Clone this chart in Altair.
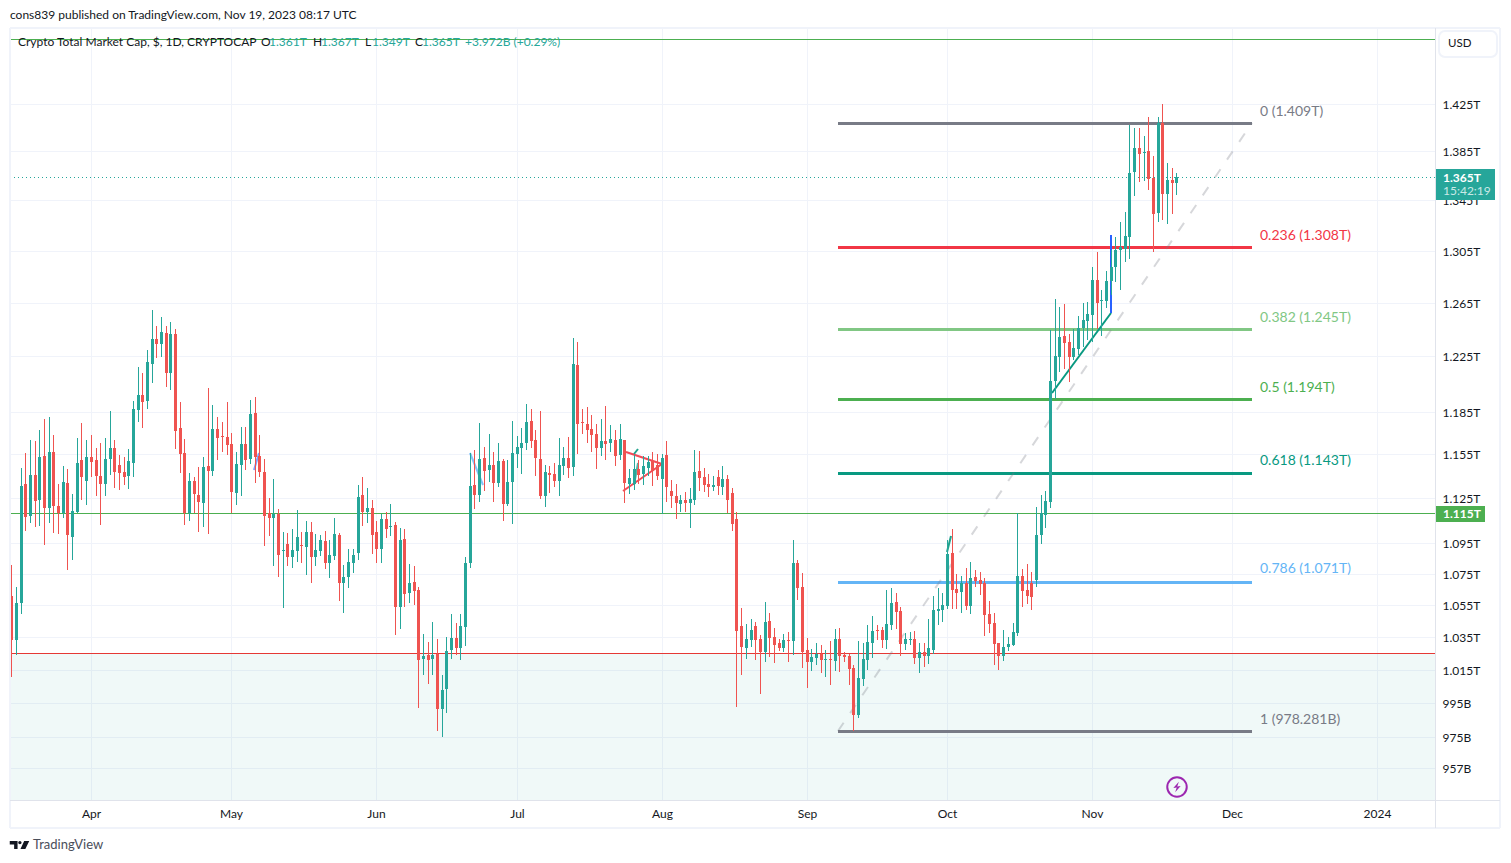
import altair as alt
import pandas as pd

FONT = "Lato"
UP = "#26a69a"
DOWN = "#ef5350"

# Billions of USD, one value per daily candle from 2023-03-15
directions = ("RGGRGRGRGR" "RGRGGRGRRR" "GGRRRGGGRG" "GRGRGRRRGR" "RGRGRRRRGG"
              "RGRRRRGRGR" "GGRGRGGRGG" "RGGGGRGRRG" "RGRGRGRRGR" "GRGGGRGGGR"
              "GRGRGRGGGG" "GRRRGRRGGR" "GRRRRRGRGR" "GRGGRGGRRG" "RRRGRGGRRR"
              "GRGRRRRGGR" "RGRRRGRGRR" "RGGRGRGRRR" "RGGGGRRGGR" "RGGRGRGGGG"
              "GRRGRGRRRR" "RRGGGGRRRG" "GGGGGRRGGG" "GGRGGGGGGG" "GRGRRGRGRG")

highs = [
    1080.6, 1066.4, 1145.4, 1155.7, 1164.8, 1164.1, 1171.8, 1179.6, 1181.0, 1168.3,
    1134.4, 1146.8, 1144.7, 1127.7, 1166.2, 1176.8, 1164.8, 1168.3, 1159.2, 1162.7,
    1166.2, 1185.3, 1164.8, 1154.3, 1153.0, 1158.5, 1192.4, 1217.0, 1212.6, 1229.5,
    1259.4, 1247.3, 1254.1, 1247.3, 1250.3, 1245.0, 1191.7, 1165.5, 1142.0, 1139.3,
    1146.1, 1153.0, 1201.7, 1189.6, 1181.0, 1177.5, 1191.7, 1169.7, 1156.4, 1174.0,
    1174.0, 1193.1, 1195.3, 1168.3, 1151.6, 1125.0, 1137.9, 1117.6, 1102.2, 1101.5,
    1104.2, 1117.0, 1102.2, 1109.5, 1108.9, 1100.8, 1100.2, 1102.9, 1096.9, 1111.5,
    1101.5, 1080.6, 1091.0, 1091.0, 1133.7, 1139.3, 1131.7, 1123.6, 1109.5, 1114.2,
    1115.6, 1120.9, 1108.9, 1104.9, 1104.2, 1081.3, 1080.0, 1067.0, 1036.8, 1031.9,
    1044.4, 1033.7, 1011.7, 1035.0, 1049.6, 1043.7, 1049.6, 1085.9, 1155.7, 1157.8,
    1176.8, 1159.9, 1169.0, 1156.4, 1162.7, 1151.6, 1150.9, 1178.2, 1167.6, 1173.3,
    1190.3, 1186.7, 1171.8, 1185.3, 1147.4, 1146.8, 1148.8, 1166.2, 1159.9, 1166.9,
    1238.4, 1235.4, 1186.7, 1188.1, 1182.4, 1176.1, 1179.6, 1188.8, 1175.4, 1171.8,
    1176.1, 1164.8, 1144.7, 1154.3, 1150.9, 1153.7, 1153.7, 1156.4, 1155.0, 1155.0,
    1164.1, 1137.2, 1134.4, 1127.0, 1129.0, 1131.7, 1157.8, 1157.1, 1145.4, 1141.3,
    1139.9, 1144.0, 1146.8, 1140.6, 1131.7, 1115.6, 1053.3, 1043.1, 1046.2, 1044.4,
    1036.2, 1057.0, 1050.2, 1040.6, 1033.7, 1036.8, 1038.1, 1096.9, 1083.9, 1075.5,
    1034.4, 1027.6, 1031.2, 1030.0, 1027.0, 1032.5, 1040.0, 1040.6, 1025.7, 1024.5,
    1017.7, 1032.5, 1031.2, 1042.5, 1048.3, 1042.5, 1041.3, 1064.5, 1065.8, 1062.6,
    1053.9, 1037.5, 1038.1, 1038.7, 1031.2, 1031.2, 1046.2, 1060.8, 1065.8, 1062.6,
    1096.9, 1104.2, 1074.8, 1073.5, 1078.7, 1082.6, 1077.4, 1076.1, 1072.2, 1057.6,
    1050.2, 1031.2, 1039.4, 1035.0, 1043.7, 1114.9, 1078.0, 1081.3, 1076.1, 1119.0,
    1127.0, 1129.7, 1244.3, 1267.7, 1261.6, 1263.9, 1241.3, 1245.0, 1254.8, 1264.7,
    1265.4, 1292.2, 1304.0, 1274.6, 1289.2, 1305.5, 1315.8, 1327.7, 1335.7, 1407.5,
    1404.2, 1405.0, 1398.3, 1413.6, 1381.3, 1413.6, 1425.0, 1375.5, 1371.4, 1367.0,
]
body_tops = [
    1060.8, 1056.4, 1133.0, 1134.4, 1140.6, 1140.6, 1153.0, 1153.7, 1156.4, 1156.4,
    1119.6, 1135.8, 1135.1, 1116.2, 1148.8, 1150.9, 1153.0, 1153.0, 1150.9, 1139.9,
    1151.6, 1159.2, 1159.2, 1147.4, 1142.7, 1150.2, 1186.7, 1196.7, 1196.7, 1220.6,
    1237.6, 1237.6, 1242.8, 1242.1, 1241.3, 1241.3, 1173.3, 1155.7, 1136.5, 1136.5,
    1127.0, 1146.1, 1146.8, 1172.6, 1172.6, 1167.6, 1166.9, 1162.0, 1148.1, 1162.0,
    1162.0, 1183.1, 1183.8, 1153.7, 1142.7, 1114.9, 1114.2, 1114.2, 1090.4, 1094.3,
    1090.4, 1098.9, 1093.6, 1102.2, 1102.2, 1090.4, 1096.9, 1096.3, 1087.2, 1100.8,
    1100.2, 1072.9, 1082.6, 1087.2, 1125.6, 1127.0, 1118.2, 1118.2, 1102.2, 1110.9,
    1110.9, 1106.2, 1106.9, 1096.9, 1097.6, 1069.0, 1069.6, 1064.5, 1023.2, 1023.9,
    1023.9, 1024.5, 1002.6, 1026.3, 1034.4, 1034.4, 1041.8, 1081.9, 1133.0, 1133.7,
    1151.6, 1152.3, 1147.4, 1147.4, 1150.2, 1150.2, 1135.8, 1155.7, 1159.9, 1162.7,
    1177.5, 1178.2, 1164.8, 1151.6, 1142.7, 1141.9, 1141.3, 1147.4, 1152.3, 1152.3,
    1219.2, 1218.5, 1177.5, 1176.1, 1172.6, 1169.0, 1164.1, 1164.1, 1165.5, 1164.8,
    1165.5, 1164.8, 1138.6, 1144.7, 1144.7, 1146.8, 1149.5, 1150.2, 1147.4, 1152.3,
    1154.3, 1129.7, 1126.3, 1123.6, 1123.6, 1124.3, 1142.7, 1143.3, 1139.3, 1134.4,
    1133.7, 1139.3, 1137.9, 1137.9, 1128.3, 1110.9, 1041.8, 1033.7, 1039.4, 1041.8,
    1033.7, 1044.4, 1045.0, 1035.0, 1031.2, 1033.1, 1033.1, 1081.9, 1081.9, 1066.4,
    1027.0, 1022.6, 1024.5, 1024.5, 1021.4, 1021.4, 1033.7, 1033.7, 1023.9, 1023.2,
    1015.9, 1009.8, 1021.4, 1031.9, 1038.7, 1039.4, 1039.4, 1043.1, 1056.4, 1056.9,
    1051.2, 1033.7, 1033.7, 1033.7, 1025.7, 1025.7, 1028.2, 1052.0, 1052.6, 1055.1,
    1087.8, 1088.5, 1065.1, 1069.0, 1069.0, 1072.2, 1072.9, 1070.9, 1069.0, 1049.6,
    1043.7, 1031.2, 1028.8, 1030.6, 1038.1, 1073.5, 1073.5, 1064.5, 1069.0, 1100.2,
    1114.9, 1122.9, 1206.8, 1225.0, 1239.1, 1239.9, 1235.4, 1230.9, 1245.7, 1251.8,
    1256.4, 1282.2, 1282.2, 1266.9, 1281.4, 1292.2, 1305.5, 1307.9, 1316.6, 1367.3,
    1387.5, 1387.5, 1384.2, 1385.0, 1363.2, 1408.6, 1408.6, 1361.5, 1361.5, 1364.0,
]
body_bottoms = [
    1033.1, 1033.1, 1056.4, 1112.2, 1112.9, 1122.9, 1123.6, 1118.2, 1118.2, 1119.6,
    1114.9, 1114.9, 1100.2, 1098.9, 1115.6, 1139.3, 1136.5, 1149.5, 1139.9, 1134.4,
    1134.4, 1151.6, 1142.7, 1141.9, 1139.3, 1139.9, 1148.8, 1185.9, 1191.7, 1192.4,
    1219.2, 1234.0, 1234.0, 1212.6, 1212.6, 1171.1, 1155.0, 1114.9, 1114.9, 1127.7,
    1122.3, 1121.6, 1143.3, 1143.3, 1166.2, 1166.9, 1161.3, 1129.0, 1128.3, 1147.4,
    1150.9, 1151.6, 1153.0, 1142.7, 1112.9, 1111.5, 1111.5, 1087.2, 1089.7, 1085.9,
    1085.9, 1089.7, 1093.0, 1092.3, 1085.9, 1085.9, 1089.7, 1081.9, 1081.9, 1086.5,
    1069.0, 1069.0, 1072.9, 1081.9, 1088.5, 1115.6, 1115.6, 1100.2, 1091.0, 1091.0,
    1104.2, 1105.5, 1053.9, 1053.9, 1062.0, 1062.6, 1063.9, 1020.8, 1021.4, 1020.8,
    1021.4, 991.2, 991.2, 1003.2, 1027.0, 1028.2, 1028.2, 1041.3, 1081.9, 1127.0,
    1127.0, 1143.3, 1144.0, 1135.1, 1135.1, 1121.0, 1121.0, 1135.8, 1155.0, 1159.2,
    1162.7, 1164.1, 1152.3, 1126.3, 1126.3, 1140.6, 1136.5, 1136.5, 1146.8, 1145.4,
    1146.1, 1176.1, 1176.8, 1171.8, 1168.3, 1159.2, 1159.2, 1162.0, 1162.7, 1153.7,
    1154.3, 1135.1, 1134.4, 1134.4, 1140.6, 1141.3, 1145.4, 1143.3, 1139.9, 1137.9,
    1132.4, 1126.3, 1121.6, 1121.0, 1121.6, 1121.6, 1123.6, 1138.6, 1133.7, 1132.4,
    1132.4, 1133.0, 1132.4, 1123.6, 1107.5, 1038.7, 1028.8, 1028.2, 1033.1, 1033.1,
    1025.7, 1025.7, 1034.4, 1030.0, 1028.2, 1028.2, 1032.5, 1032.5, 1065.8, 1025.7,
    1019.6, 1019.6, 1022.0, 1020.8, 1020.8, 1020.8, 1020.2, 1023.2, 1022.6, 1015.3,
    987.6, 987.6, 1009.2, 1020.8, 1031.2, 1038.7, 1033.1, 1033.1, 1042.5, 1050.8,
    1030.6, 1030.6, 1033.1, 1022.0, 1022.0, 1023.2, 1023.2, 1027.0, 1051.2, 1052.0,
    1054.5, 1064.5, 1062.6, 1063.2, 1054.5, 1054.5, 1070.3, 1068.3, 1048.7, 1043.1,
    1030.6, 1023.2, 1023.2, 1028.8, 1030.0, 1037.5, 1063.9, 1060.8, 1060.2, 1070.9,
    1100.2, 1113.6, 1122.3, 1206.8, 1224.3, 1234.7, 1224.3, 1224.3, 1230.2, 1245.7,
    1251.1, 1255.6, 1264.7, 1266.2, 1266.2, 1281.4, 1292.2, 1305.5, 1306.3, 1315.8,
    1368.0, 1382.5, 1383.3, 1362.3, 1334.1, 1334.9, 1350.2, 1350.2, 1359.0, 1359.0,
]
lows = [
    1010.4, 1023.9, 1049.6, 1102.9, 1108.2, 1105.5, 1106.2, 1093.6, 1108.2, 1101.8,
    1101.2, 1111.5, 1077.9, 1083.9, 1114.9, 1123.6, 1120.2, 1139.3, 1126.3, 1106.9,
    1126.3, 1140.6, 1131.7, 1130.4, 1133.7, 1131.1, 1139.3, 1177.5, 1173.3, 1186.7,
    1205.3, 1223.6, 1224.3, 1202.4, 1200.3, 1158.5, 1142.0, 1106.9, 1109.5, 1114.9,
    1102.6, 1105.5, 1101.2, 1139.9, 1150.9, 1156.4, 1154.3, 1114.9, 1120.2, 1126.3,
    1144.0, 1148.1, 1135.1, 1139.3, 1093.0, 1099.5, 1080.0, 1072.9, 1053.3, 1080.0,
    1078.7, 1082.6, 1081.9, 1074.2, 1069.0, 1080.0, 1086.5, 1078.0, 1072.2, 1083.9,
    1057.6, 1050.2, 1065.8, 1075.5, 1083.9, 1106.2, 1108.2, 1087.8, 1081.9, 1081.9,
    1098.2, 1099.5, 1036.2, 1040.0, 1053.9, 1056.4, 1055.1, 991.9, 1011.7, 1006.2,
    1011.7, 978.2, 974.8, 988.8, 1021.4, 1023.9, 1020.8, 1029.4, 1078.7, 1117.6,
    1122.3, 1129.7, 1135.8, 1122.3, 1132.4, 1109.5, 1119.6, 1107.5, 1145.4, 1141.3,
    1157.8, 1159.2, 1139.9, 1124.3, 1119.0, 1128.3, 1132.4, 1126.3, 1140.6, 1138.6,
    1139.9, 1155.0, 1169.0, 1162.7, 1156.4, 1144.7, 1153.7, 1150.9, 1156.4, 1146.8,
    1150.9, 1121.6, 1127.7, 1130.4, 1134.4, 1133.7, 1139.9, 1133.0, 1137.2, 1114.2,
    1122.3, 1118.2, 1110.9, 1115.6, 1115.6, 1104.9, 1120.2, 1129.7, 1129.0, 1125.6,
    1129.7, 1127.0, 1127.0, 1114.9, 1102.9, 992.5, 1011.7, 1021.4, 1028.8, 1020.8,
    1000.2, 1019.6, 1022.6, 1019.0, 1026.3, 1025.7, 1019.6, 1023.9, 1058.2, 1015.9,
    1003.8, 1014.0, 1017.7, 1012.9, 1010.4, 1005.6, 1014.0, 1013.5, 1019.6, 1005.6,
    978.2, 985.9, 1005.0, 1014.6, 1022.0, 1033.1, 1028.2, 1027.6, 1039.4, 1040.0,
    1023.2, 1027.0, 1030.0, 1018.3, 1012.9, 1017.0, 1018.3, 1024.5, 1042.5, 1044.4,
    1052.6, 1052.6, 1052.6, 1050.2, 1052.0, 1049.6, 1067.0, 1061.4, 1035.6, 1037.5,
    1017.7, 1014.6, 1020.2, 1026.3, 1029.4, 1035.6, 1053.9, 1055.7, 1052.0, 1067.0,
    1094.3, 1104.9, 1118.2, 1193.8, 1213.3, 1215.5, 1206.0, 1222.1, 1225.8, 1231.7,
    1236.9, 1235.4, 1245.0, 1239.9, 1261.0, 1270.8, 1280.7, 1274.6, 1296.1, 1298.5,
    1348.6, 1359.9, 1360.7, 1353.4, 1304.0, 1327.7, 1329.3, 1326.2, 1334.1, 1349.0,
]

dates = pd.date_range("2023-03-15", periods=len(highs)).strftime("%Y-%m-%dT00:00:00Z").tolist()

# Fibonacci retracement
fib_labels = ["0 (1.409T)", "0.236 (1.308T)", "0.382 (1.245T)", "0.5 (1.194T)",
              "0.618 (1.143T)", "0.786 (1.071T)", "1 (978.281B)"]
fib_levels = [1409, 1308, 1245, 1194, 1143, 1071, 978.281]
fib_prices = [1409, 1307.5, 1245, 1194, 1142.2, 1069.7, 978.3]
fib_colors = ["#787b86", "#f23645", "#81c784", "#4caf50", "#089981", "#64b5f6", "#787b86"]
fib_start = "2023-09-07T19:00:00Z"
fib_end = "2023-12-05T05:00:00Z"
fib_text_at = "2023-12-06T22:00:00Z"

# Drawn trend lines: (colour, opacity, [date...], [price...])
drawings = [
    ("#089981", 1.0, ["2023-10-23T12:00:00Z", "2023-11-05T02:00:00Z"], [1198, 1257]),
    ("#2962ff", 1.0, ["2023-11-05T02:00:00Z", "2023-11-05T02:00:00Z"], [1257, 1317]),
    ("#2962ff", 0.6, ["2023-05-05T22:00:00Z", "2023-05-06T23:00:00Z"], [1144, 1155.7]),
    ("#64b5f6", 0.8, ["2023-06-21T01:00:00Z", "2023-06-23T19:00:00Z"], [1155.7, 1133.7]),
    ("#f23645", 0.9, ["2023-07-24T10:00:00Z", "2023-08-01T02:00:00Z"], [1156.4, 1148]),
    ("#f23645", 0.9, ["2023-07-23T19:00:00Z", "2023-08-01T02:00:00Z"], [1129.7, 1148]),
    ("#089981", 0.9, ["2023-07-26T02:00:00Z", "2023-07-27T00:00:00Z"], [1155, 1158.5]),
    ("#089981", 0.7, ["2023-07-26T02:00:00Z", "2023-07-27T00:00:00Z"], [1133.7, 1148.8]),
    ("#089981", 0.9, ["2023-10-01T00:00:00Z", "2023-10-01T21:00:00Z"], [1089, 1099.5]),
]

y_ticks = [1425, 1385, 1345, 1305, 1265, 1225, 1185, 1155, 1125, 1095, 1075, 1055,
           1035, 1015, 995, 975, 957]
x_ticks = ["2023-04-01T00:00:00Z", "2023-05-01T00:00:00Z", "2023-06-01T00:00:00Z",
           "2023-07-01T00:00:00Z", "2023-08-01T00:00:00Z", "2023-09-01T00:00:00Z",
           "2023-10-01T00:00:00Z", "2023-11-01T00:00:00Z", "2023-12-01T00:00:00Z",
           "2024-01-01T00:00:00Z"]
x_domain = ["2023-03-14T17:20:00Z", "2024-01-13T07:12:00Z"]
y_domain = [938.8, 1491.4]

top_line_price = 1482
support_price = 1115
lower_price = 1025.5
last_price = 1364

x_scale = alt.Scale(type="utc", domain=x_domain, round=True, padding=0)
y_scale = alt.Scale(type="log", domain=y_domain, round=True, nice=False)

x_axis = alt.Axis(
    values=x_ticks, grid=True, gridColor="#f0f3fa", domain=False, ticks=False, title=None,
    labelPadding=8, labelFont=FONT, labelFontSize=12, labelColor="#131722",
    labelOverlap=False, labelFlush=False,
    labelExpr="utcFormat(datum.value,'%m')=='01' ? utcFormat(datum.value,'%Y') : utcFormat(datum.value,'%b')")
y_axis = alt.Axis(
    orient="right", values=y_ticks, grid=True, gridColor="#f0f3fa", domain=False, ticks=False, title=None,
    labelPadding=7, labelFont=FONT, labelFontSize=12, labelColor="#131722", labelOverlap=False,
    labelBound=False, labelFlush=False,
    labelExpr="datum.value>=1000 ? format(datum.value/1000,'.3f')+'T' : datum.value+'B'")


def X(field):
    return alt.X(field, type="temporal", scale=x_scale, axis=x_axis)


def Y(field):
    return alt.Y(field, type="quantitative", scale=y_scale, axis=y_axis)


def txt(s, px, py, color="#131722", size=12, weight="normal", align="left", font=FONT):
    return alt.Chart().mark_text(text=s, align=align, baseline="middle", font=font, fontSize=size,
                                 color=color, fontWeight=weight).encode(
        x=alt.value(px - 10), y=alt.value(py - 28))


def hrule(a, b, y, color, w=1):
    return alt.Chart().mark_rule(color=color, strokeWidth=w).encode(
        x=alt.value(a), x2=alt.value(b), y=alt.value(y))


def vrule(x, a, b, color, w=1):
    return alt.Chart().mark_rule(color=color, strokeWidth=w).encode(
        x=alt.value(x), y=alt.value(a), y2=alt.value(b))


def box(x0, x1, y0, y1, color):
    return alt.Chart().mark_rect(color=color).encode(
        x=alt.value(x0 - 10), x2=alt.value(x1 - 10), y=alt.value(y0 - 28), y2=alt.value(y1 - 28))


is_up = [d == "G" for d in directions]
candles = pd.DataFrame({
    "date": dates,
    "open": [b if u else t for u, t, b in zip(is_up, body_tops, body_bottoms)],
    "close": [t if u else b for u, t, b in zip(is_up, body_tops, body_bottoms)],
    "high": highs,
    "low": lows,
    "color": [UP if u else DOWN for u in is_up],
})
fib = pd.DataFrame({"label": fib_labels, "level": fib_levels, "price": fib_prices, "color": fib_colors,
                    "start": fib_start, "end": fib_end, "textx": fib_text_at})

shade = alt.Chart(pd.DataFrame({"a": [lower_price], "b": [y_domain[0]]})).mark_rect(
    color="#26a69a", opacity=0.07).encode(y=Y("a"), y2=alt.Y2("b"))

levels = alt.Chart(pd.DataFrame({"p": [top_line_price, support_price, lower_price],
                                 "c": ["#4caf50", "#4caf50", "#e53935"]})).mark_rule(
    strokeWidth=1, yOffset=0.5).encode(y=Y("p"), color=alt.Color("c:N", scale=None))

last_line = alt.Chart(pd.DataFrame({"p": [last_price]})).mark_rule(
    color=UP, strokeWidth=1, strokeDash=[1, 3], yOffset=0.5).encode(y=Y("p"))

fib_lines = alt.Chart(fib).mark_rule(strokeWidth=3, yOffset=0.5).encode(
    x=X("start"), x2=alt.X2("end"), y=Y("price"), color=alt.Color("color:N", scale=None))
fib_text = alt.Chart(fib).mark_text(align="left", baseline="middle", dy=-11, font=FONT, fontSize=14).encode(
    x=X("textx"), y=Y("level"), text="label:N", color=alt.Color("color:N", scale=None))

diag = alt.Chart(pd.DataFrame({"d": [fib_start, fib_end], "p": [fib_prices[-1], fib_prices[0]]})).mark_line(
    color="#787b86", opacity=0.3, strokeWidth=2, strokeDash=[10, 11.6]).encode(x=X("d"), y=Y("p"))

draw_layers = []
for col, op, ds, ps in drawings:
    draw_layers.append(alt.Chart(pd.DataFrame({"d": ds, "p": ps})).mark_line(
        color=col, opacity=op, strokeWidth=2).encode(x=X("d"), y=Y("p")))

wicks = alt.Chart(candles).mark_rule(strokeWidth=1, xOffset=0.5).encode(
    x=X("date"), y=Y("low"), y2=alt.Y2("high"), color=alt.Color("color:N", scale=None))
bodies = alt.Chart(candles).mark_bar(size=3, xOffset=0.5).encode(
    x=X("date"), y=Y("open"), y2=alt.Y2("close"), color=alt.Color("color:N", scale=None))

icon = alt.Chart(pd.DataFrame({"d": ["2023-11-19T05:00:00Z"], "p": [946]}))
icon_ring = icon.mark_point(shape="circle", size=380, stroke="#9c27b0", strokeWidth=2, fillOpacity=0, opacity=1).encode(
    x=X("d"), y=Y("p"))
icon_bolt = icon.mark_point(
    shape="M0.35,-1 L-0.7,0.2 L-0.05,0.1 L-0.35,1 L0.7,-0.2 L0.05,-0.1 Z",
    size=110, filled=True, fill="#9c27b0", strokeWidth=0, opacity=1).encode(x=X("d"), y=Y("p"))

logo = alt.Chart().mark_point(
    shape=("M-1,-.42 L-.2,-.42 L-.2,.42 L-.55,.42 L-.55,-.05 L-1,-.05 Z "
           "M-.13,-.25 a.17,.17 0 1,0 .34,0 a.17,.17 0 1,0 -.34,0 Z "
           "M.48,-.42 L1,-.42 L.6,.42 L.1,.42 Z"),
    size=380, filled=True, fill="#131722", strokeWidth=0, opacity=1).encode(
    x=alt.value(9.5), y=alt.value(817))

frame = [
    vrule(0, 0, 800, "#f0f3fa", 2), vrule(1490, 0, 800, "#f0f3fa", 2),
    hrule(0, 1490, 0, "#f0f3fa", 2), hrule(0, 1490, 800, "#f0f3fa", 2),
    vrule(1425.5, 0, 800, "#e0e3eb"), hrule(0, 1490, 772.5, "#e0e3eb"),
]

usd_box = alt.Chart().mark_rect(fillOpacity=0, stroke="#f0f3fa", strokeWidth=2, cornerRadius=6).encode(
    x=alt.value(1429), x2=alt.value(1487), y=alt.value(3), y2=alt.value(29))

texts = [
    txt("cons839 published on TradingView.com, Nov 19, 2023 08:17 UTC", 10, 15),
    txt("Crypto Total Market Cap, $, 1D, CRYPTOCAP", 18, 42),
    txt("O", 261, 42), txt("1.361T", 269, 42, UP),
    txt("H", 313, 42), txt("1.367T", 321, 42, UP),
    txt("L", 365, 42), txt("1.349T", 372, 42, UP),
    txt("C", 415, 42), txt("1.365T", 422, 42, UP),
    txt("+3.972B (+0.29%)", 465, 42, UP),
    txt("USD", 1448, 44, size=11.5),
    txt("TradingView", 33, 845, "#4a4e5a", 13),
]

tags = [
    box(1436, 1495, 169, 200, UP),
    txt("1.365T", 1443, 178, "#ffffff", 12, "bold"),
    txt("15:42:19", 1443, 191, "#c9e9e6", 12),
    box(1436, 1485, 506, 522, "#4caf50"),
    txt("1.115T", 1443, 514, "#ffffff", 12, "bold"),
]

chart = alt.layer(
    shade, levels, last_line, fib_lines, diag, *draw_layers, wicks, bodies, fib_text,
    icon_ring, icon_bolt, *frame, usd_box, *tags, *texts, logo,
).properties(
    width=1425, height=772,
    padding={"left": 2, "top": 20, "right": 68, "bottom": 54},
    autosize=alt.AutoSizeParams(type="none"),
    background="#ffffff",
).configure_view(stroke=None)

chart.save("out.html", embed_options={"renderer": "svg", "actions": False})
